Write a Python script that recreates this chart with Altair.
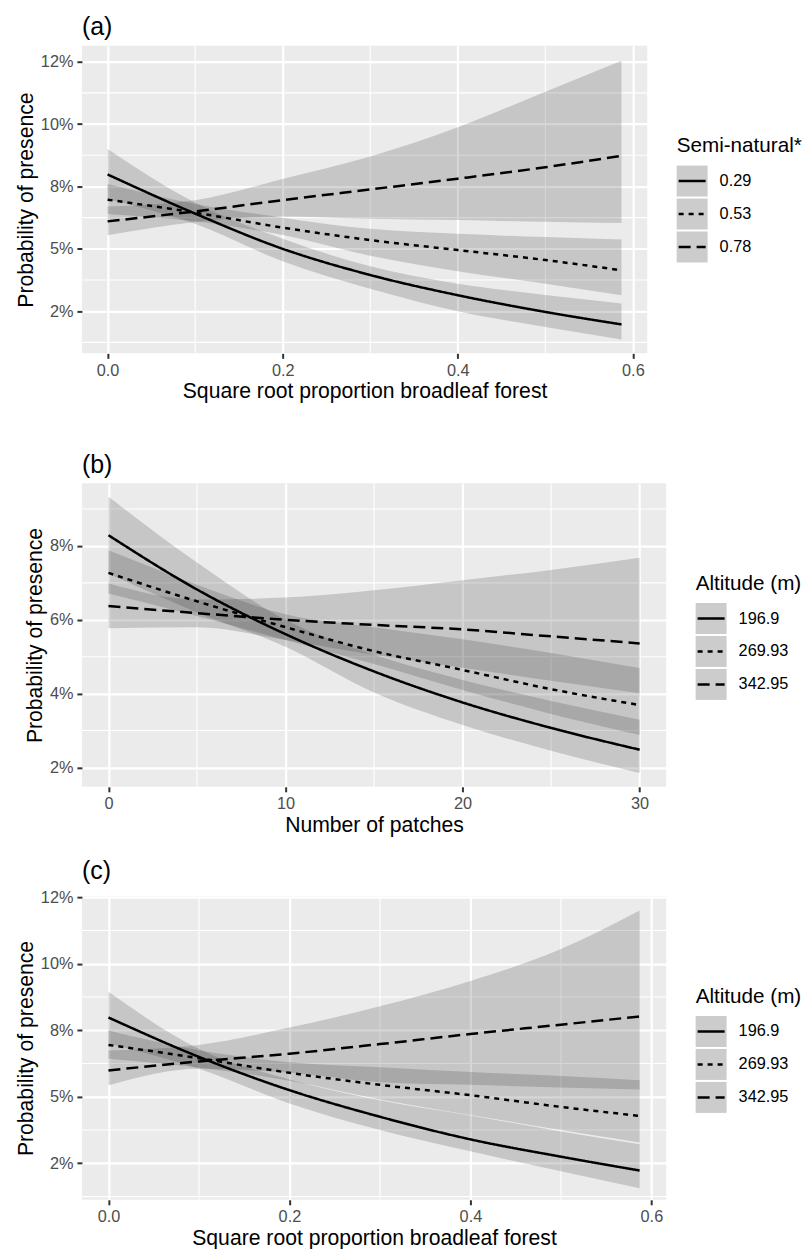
import altair as alt
import pandas as pd

FONT = "Liberation Sans"

# ---------------- Panel (a) ----------------
A_GROUPS = ["0.29", "0.53", "0.78"]
A_X = [0, 0.1, 0.2, 0.3, 0.4, 0.5, 0.587]
A_FIT = {
    "0.29": [7.98, 6.41, 5.0, 3.95, 3.14, 2.47, 1.97],
    "0.53": [6.97, 6.45, 5.85, 5.35, 4.95, 4.55, 4.14],
    "0.78": [6.1, 6.5, 6.95, 7.38, 7.81, 8.27, 8.73],
}
A_LO = {
    "0.29": [7.0, 6.0, 4.5, 3.4, 2.5, 1.87, 1.37],
    "0.53": [6.4, 6.1, 5.55, 4.72, 4.1, 3.6, 3.14],
    "0.78": [5.54, 6.07, 6.3, 6.2, 6.15, 6.08, 6.03],
}
A_HI = {
    "0.29": [9.0, 6.85, 5.4, 4.3, 3.6, 3.15, 2.81],
    "0.53": [7.6, 6.8, 6.25, 5.8, 5.6, 5.47, 5.37],
    "0.78": [6.7, 6.95, 7.8, 8.7, 9.87, 11.3, 12.54],
}

# ---------------- Panel (b) ----------------
B_GROUPS = ["196.9", "269.93", "342.95"]
B_X = [0, 5, 10, 15, 20, 25, 30]
B_FIT = {
    "196.9": [8.29, 6.82, 5.61, 4.6, 3.76, 3.07, 2.48],
    "269.93": [7.27, 6.5, 5.8, 5.15, 4.64, 4.12, 3.69],
    "342.95": [6.37, 6.18, 6.0, 5.86, 5.74, 5.55, 5.36],
}
B_LO = {
    "196.9": [7.25, 6.2, 5.27, 4.03, 3.15, 2.45, 1.85],
    "269.93": [6.71, 6.1, 5.45, 4.8, 4.1, 3.45, 2.88],
    "342.95": [5.77, 5.8, 5.45, 5.05, 4.7, 4.35, 4.01],
}
B_HI = {
    "196.9": [9.33, 7.55, 6.0, 5.05, 4.37, 3.8, 3.29],
    "269.93": [7.88, 6.95, 6.15, 5.8, 5.47, 5.1, 4.69],
    "342.95": [6.98, 6.55, 6.6, 6.8, 7.07, 7.35, 7.68],
}

# ---------------- Panel (c) ----------------
C_GROUPS = ["196.9", "269.93", "342.95"]
C_X = [0, 0.1, 0.2, 0.3, 0.4, 0.5, 0.587]
C_FIT = {
    "196.9": [7.98, 6.5, 5.25, 4.25, 3.4, 2.75, 2.23],
    "269.93": [6.95, 6.45, 5.9, 5.45, 5.06, 4.62, 4.28],
    "342.95": [5.99, 6.33, 6.62, 6.98, 7.36, 7.71, 8.02],
}
C_LO = {
    "196.9": [7.0, 6.05, 4.75, 3.75, 2.95, 2.2, 1.56],
    "269.93": [6.43, 6.1, 5.6, 4.9, 4.32, 3.75, 3.28],
    "342.95": [5.43, 6.05, 5.9, 5.55, 5.45, 5.35, 5.27],
}
C_HI = {
    "196.9": [8.95, 6.8, 5.65, 4.87, 4.3, 3.7, 3.22],
    "269.93": [7.49, 6.75, 6.3, 6.11, 5.93, 5.78, 5.62],
    "342.95": [6.74, 6.95, 7.6, 8.4, 9.35, 10.55, 12.0],
}

# ---------------- Axis ticks / labels ----------------
X_SQRT_TICKS = [0, 0.2, 0.4, 0.6]
X_SQRT_LABELS = ["0.0", "0.2", "0.4", "0.6"]
X_SQRT_MINOR = [0.1, 0.3, 0.5]
X_PATCH_TICKS = [0, 10, 20, 30]
X_PATCH_LABELS = ["0", "10", "20", "30"]
X_PATCH_MINOR = [5, 15, 25]
Y_AC_TICKS = [2.5, 5, 7.5, 10, 12.5]
Y_AC_LABELS = ["2%", "5%", "8%", "10%", "12%"]
Y_AC_MINOR = [1.25, 3.75, 6.25, 8.75, 11.25]
Y_B_TICKS = [2, 4, 6, 8]
Y_B_LABELS = ["2%", "4%", "6%", "8%"]
Y_B_MINOR = [3, 5, 7, 9]

DASHES = [[1, 0], [5, 5], [12, 6]]
LINE_W = 2.5
BAND_FILL = "#333333"
BAND_OPACITY = 0.2
KEY_STEP = 33.0        # legend key pitch (px)
KEY_FIRST = 135.5      # centre of first key below plot top (px)
LEGEND_GAP = 28.5


def label_expr(vals, labs):
    return "".join(f"datum.value == {v} ? '{l}' : " for v, l in zip(vals, labs)) + "''"


def build_df(xs, groups, fit, lo, hi):
    rows = []
    for g in groups:
        for i, x in enumerate(xs):
            rows.append({"x": x, "group": g, "fit": fit[g][i], "lo": lo[g][i], "hi": hi[g][i]})
    return pd.DataFrame(rows)


def panel(tag, df, groups, xticks, xlabels, xminor, xdomain, yticks, ylabels, yminor,
          ydomain, xtitle, legend_title, width, height):
    xs = alt.Scale(domain=xdomain, nice=False, zero=False)
    ys = alt.Scale(domain=ydomain, nice=False, zero=False)
    dash_scale = alt.Scale(domain=groups, range=DASHES)

    common = dict(grid=True, gridColor="white", gridWidth=2.2, domain=False,
                  tickColor="#333333", tickWidth=2, tickSize=5,
                  labelColor="#4D4D4D", labelFontSize=16.3, labelFont=FONT, labelPadding=4,
                  titleFont=FONT, titleFontSize=21.2, titleFontWeight="normal",
                  titleColor="black")
    xaxis = alt.Axis(values=xticks, labelExpr=label_expr(xticks, xlabels), title=xtitle,
                     titlePadding=2, **common)
    yaxis = alt.Axis(values=yticks, labelExpr=label_expr(yticks, ylabels),
                     title="Probability of presence", titlePadding=4, **common)

    minor_x = alt.Chart(pd.DataFrame({"v": xminor})).mark_rule(
        color="white", strokeWidth=1.1).encode(x=alt.X("v:Q", scale=xs, axis=xaxis))
    minor_y = alt.Chart(pd.DataFrame({"v": yminor})).mark_rule(
        color="white", strokeWidth=1.1).encode(y=alt.Y("v:Q", scale=ys, axis=yaxis))

    base = alt.Chart(df)
    bands = base.mark_area(color=BAND_FILL, opacity=BAND_OPACITY, interpolate="monotone").encode(
        x=alt.X("x:Q", scale=xs, axis=xaxis),
        y=alt.Y("lo:Q", scale=ys, axis=yaxis),
        y2="hi:Q",
        detail="group:N",
    )
    lines = base.mark_line(color="black", strokeWidth=LINE_W, interpolate="monotone",
                           strokeCap="butt").encode(
        x=alt.X("x:Q", scale=xs, axis=xaxis),
        y=alt.Y("fit:Q", scale=ys, axis=yaxis),
        strokeDash=alt.StrokeDash("group:N", scale=dash_scale, legend=None),
    )
    main = alt.layer(minor_x, minor_y, bands, lines).properties(
        width=width, height=height,
        title=alt.TitleParams(tag, anchor="start", frame="group", fontSize=25, font=FONT,
                              fontWeight="normal", color="black", offset=5),
        view=alt.ViewBackground(fill="#EBEBEB", stroke=None),
    )

    # Legend (ggplot-style keys with ribbon background), index-based vertical scale
    leg_df = pd.DataFrame({"group": groups, "i": list(range(len(groups)))})
    ly = alt.Scale(domain=[-KEY_FIRST / KEY_STEP, (height - KEY_FIRST) / KEY_STEP],
                   reverse=True, nice=False, zero=False)
    keys = alt.Chart(leg_df).transform_calculate(
        k0="datum.i - 0.47", k1="datum.i + 0.47").mark_rect(color="#CCCCCC").encode(
        y=alt.Y("k0:Q", scale=ly, axis=None), y2="k1:Q", x=alt.value(0), x2=alt.value(31))
    syms = alt.Chart(leg_df).mark_rule(color="black", strokeWidth=LINE_W, strokeCap="butt").encode(
        y=alt.Y("i:Q", scale=ly, axis=None), x=alt.value(2), x2=alt.value(29),
        strokeDash=alt.StrokeDash("group:N", scale=dash_scale, legend=None))
    labs = alt.Chart(leg_df).mark_text(align="left", baseline="middle", fontSize=16.3,
                                       font=FONT, color="black").encode(
        y=alt.Y("i:Q", scale=ly, axis=None), x=alt.value(43), text="group:N")
    ttl = alt.Chart(pd.DataFrame({"i": [0]})).mark_text(
        align="left", baseline="middle", dy=-35, fontSize=20.7, font=FONT, color="black").encode(
        y=alt.Y("i:Q", scale=ly, axis=None), x=alt.value(0), text=alt.value(legend_title))
    legend = alt.layer(keys, syms, labs, ttl).properties(
        width=90, height=height, view=alt.ViewBackground(stroke=None))

    return alt.hconcat(main, legend, spacing=LEGEND_GAP).resolve_scale(
        x="independent", y="independent", strokeDash="independent")


df_a = build_df(A_X, A_GROUPS, A_FIT, A_LO, A_HI)
df_b = build_df(B_X, B_GROUPS, B_FIT, B_LO, B_HI)
df_c = build_df(C_X, C_GROUPS, C_FIT, C_LO, C_HI)

pa = panel("(a)", df_a, A_GROUPS, X_SQRT_TICKS, X_SQRT_LABELS, X_SQRT_MINOR, [-0.02935, 0.61635],
           Y_AC_TICKS, Y_AC_LABELS, Y_AC_MINOR, [0.81, 13.14],
           "Square root proportion broadleaf forest", "Semi-natural*", 566, 308)
pb = panel("(b)", df_b, B_GROUPS, X_PATCH_TICKS, X_PATCH_LABELS, X_PATCH_MINOR, [-1.5, 31.5],
           Y_B_TICKS, Y_B_LABELS, Y_B_MINOR, [1.475, 9.70],
           "Number of patches", "Altitude (m)", 585, 304)
pc = panel("(c)", df_c, C_GROUPS, X_SQRT_TICKS, X_SQRT_LABELS, X_SQRT_MINOR, [-0.02935, 0.61635],
           Y_AC_TICKS, Y_AC_LABELS, Y_AC_MINOR, [1.13, 12.54],
           "Square root proportion broadleaf forest", "Altitude (m)", 585, 304)

lower = alt.vconcat(pb, pc, spacing=23.5).resolve_scale(
    x="independent", y="independent", strokeDash="independent")
chart = alt.vconcat(pa, lower, spacing=50).resolve_scale(
    x="independent", y="independent", strokeDash="independent"
).properties(
    padding={"left": 7, "top": 6, "right": 0, "bottom": 0}
).configure_view(stroke=None).configure(background="white")

chart.save("out.html", embed_options={"renderer": "svg", "actions": False})
